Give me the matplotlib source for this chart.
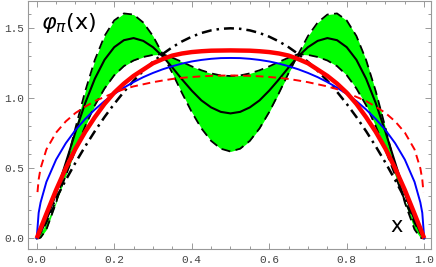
import numpy as np
import matplotlib
matplotlib.use('Agg')
import matplotlib.pyplot as plt
from matplotlib.ticker import MultipleLocator, FixedLocator

# common x grid
x = [0, 0.005, 0.01, 0.025, 0.05, 0.075, 0.1, 0.125, 0.15, 0.175, 0.2, 0.225, 0.25,
     0.275, 0.3, 0.325, 0.35, 0.375, 0.4, 0.425, 0.45, 0.475, 0.5, 0.525, 0.55, 0.575,
     0.6, 0.625, 0.65, 0.675, 0.7, 0.725, 0.75, 0.775, 0.8, 0.825, 0.85, 0.875, 0.9,
     0.925, 0.95, 0.975, 0.99, 0.995, 1.0]

# asymptotic (dash-dot)
asym = [0, 0.0299, 0.0594, 0.1463, 0.285, 0.4163, 0.54, 0.6563, 0.765, 0.8663, 0.96,
        1.0463, 1.125, 1.1963, 1.26, 1.3163, 1.365, 1.4063, 1.44, 1.4663, 1.485, 1.4963,
        1.5, 1.4963, 1.485, 1.4663, 1.44, 1.4063, 1.365, 1.3163, 1.26, 1.1963, 1.125,
        1.0463, 0.96, 0.8663, 0.765, 0.6563, 0.54, 0.4163, 0.285, 0.1463, 0.0594, 0.0299, 0]

# blue solid
blue = [0, 0.182, 0.256, 0.403, 0.562, 0.679, 0.773, 0.852, 0.920, 0.980, 1.031, 1.076,
        1.116, 1.151, 1.181, 1.207, 1.229, 1.248, 1.263, 1.274, 1.282, 1.287, 1.288,
        1.287, 1.282, 1.274, 1.263, 1.248, 1.229, 1.207, 1.181, 1.151, 1.116, 1.076,
        1.031, 0.980, 0.920, 0.852, 0.773, 0.679, 0.562, 0.403, 0.256, 0.182, 0]

# black solid (centre of band)
black = [0, 0.02, 0.04, 0.13, 0.32, 0.54, 0.76, 0.965, 1.14, 1.275, 1.365, 1.415, 1.43,
         1.41, 1.365, 1.30, 1.22, 1.135, 1.055, 0.985, 0.935, 0.903, 0.892,
         0.903, 0.935, 0.985, 1.055, 1.135, 1.22, 1.30, 1.365, 1.41, 1.43, 1.415, 1.365,
         1.275, 1.14, 0.965, 0.76, 0.54, 0.32, 0.13, 0.04, 0.02, 0]

# band edge curves (dashed)
band_a = [0, 0.0, 0.005, 0.063, 0.254, 0.511, 0.788, 1.05, 1.274, 1.445, 1.556, 1.606,
          1.598, 1.541, 1.445, 1.315, 1.18, 1.037, 0.902, 0.785, 0.696, 0.640, 0.620,
          0.640, 0.696, 0.785, 0.902, 1.037, 1.18, 1.315, 1.445, 1.541, 1.598, 1.606,
          1.556, 1.445, 1.274, 1.05, 0.788, 0.511, 0.254, 0.063, 0.005, 0.0, 0]
band_b = [0, 0.017, 0.037, 0.11, 0.268, 0.448, 0.63, 0.80, 0.95, 1.07, 1.165, 1.23,
          1.27, 1.295, 1.31, 1.315, 1.29, 1.26, 1.228, 1.20, 1.178, 1.163, 1.159,
          1.163, 1.178, 1.20, 1.228, 1.26, 1.29, 1.315, 1.31, 1.295, 1.27, 1.23, 1.165,
          1.07, 0.95, 0.80, 0.63, 0.448, 0.268, 0.11, 0.037, 0.017, 0]

# red thick
red = [0, 0.035, 0.07, 0.175, 0.345, 0.50, 0.64, 0.76, 0.865, 0.96, 1.04, 1.105, 1.16,
       1.205, 1.25, 1.28, 1.305, 1.32, 1.33, 1.336, 1.34, 1.341, 1.342,
       1.341, 1.34, 1.336, 1.33, 1.32, 1.305, 1.28, 1.25, 1.205, 1.16, 1.105, 1.04,
       0.96, 0.865, 0.76, 0.64, 0.50, 0.345, 0.175, 0.07, 0.035, 0]

# red dashed
rx = [0.002, 0.005, 0.01, 0.025, 0.05, 0.075, 0.1, 0.125, 0.15, 0.175, 0.2, 0.225, 0.25,
      0.275, 0.3, 0.325, 0.35, 0.375, 0.4, 0.425, 0.45, 0.475, 0.5, 0.525, 0.55, 0.575,
      0.6, 0.625, 0.65, 0.675, 0.7, 0.725, 0.75, 0.775, 0.8, 0.825, 0.85, 0.875, 0.9,
      0.925, 0.95, 0.975, 0.99, 0.995, 0.998]
red_dash = [0.33, 0.42, 0.50, 0.635, 0.755, 0.835, 0.895, 0.94, 0.98, 1.01, 1.04, 1.065,
            1.085, 1.10, 1.115, 1.127, 1.138, 1.146, 1.152, 1.157, 1.16, 1.162, 1.163,
            1.162, 1.16, 1.157, 1.152, 1.146, 1.138, 1.127, 1.115, 1.10, 1.085, 1.065,
            1.04, 1.01, 0.98, 0.94, 0.895, 0.835, 0.755, 0.635, 0.50, 0.42, 0.33]

xticks = [0.0, 0.2, 0.4, 0.6, 0.8, 1.0]
xticklabels = ['0.0', '0.2', '0.4', '0.6', '0.8', '1.0']
yticks = [0.0, 0.5, 1.0, 1.5]
yticklabels = ['0.0', '0.5', '1.0', '1.5']

fig = plt.figure(figsize=(4.36, 2.67), dpi=100)
ax = fig.add_axes([28/436, 18/267, 403/436, 248.3/267])

a = np.array(band_a)
b = np.array(band_b)
ax.fill_between(x, np.minimum(a, b), np.maximum(a, b), color='#00ff00', lw=0, zorder=1)
ax.plot(x, band_a, color='black', lw=1.3, dashes=(5, 3), zorder=2)
ax.plot(x, band_b, color='black', lw=1.3, dashes=(5, 3), zorder=2)
ax.plot(x, black, color='black', lw=1.5, zorder=3)
ax.plot(x, asym, color='black', lw=1.8, dashes=(4, 2, 1, 2), zorder=3)
ax.plot(x, blue, color='#0000ff', lw=1.4, zorder=4)
ax.plot(rx, red_dash, color='#ff0000', lw=1.4, dashes=(4, 2.5), zorder=4)
ax.plot(x, red, color='#ff0000', lw=3.2, zorder=5, solid_capstyle='butt')

ax.set_xlim(-0.0225, 1.0175)
ax.set_ylim(-0.0764, 1.697)

ax.xaxis.set_major_locator(FixedLocator(xticks))
ax.yaxis.set_major_locator(FixedLocator(yticks))
ax.xaxis.set_minor_locator(MultipleLocator(0.05))
ax.yaxis.set_minor_locator(MultipleLocator(0.1))
ax.set_xticklabels(xticklabels, family='Liberation Mono', fontsize=8, color='#444444')
ax.set_yticklabels(yticklabels, family='Liberation Mono', fontsize=8, color='#444444')
ax.tick_params(which='both', direction='in', top=True, right=True, color='#999999', width=0.7)
ax.tick_params(which='major', length=4)
ax.tick_params(which='minor', length=2.5)
ax.tick_params(axis='x', pad=4)
ax.tick_params(axis='y', pad=3)
for s in ax.spines.values():
    s.set_color('#999999')
    s.set_linewidth(0.8)

ax.text(0.012, 1.54, r'$\varphi_{\pi}$(x)', fontsize=16, family='DejaVu Sans', va='center', ha='left')
ax.text(0.929, 0.085, 'x', fontsize=15, family='DejaVu Sans', va='center', ha='center')

fig.savefig('out.png', dpi=100)
